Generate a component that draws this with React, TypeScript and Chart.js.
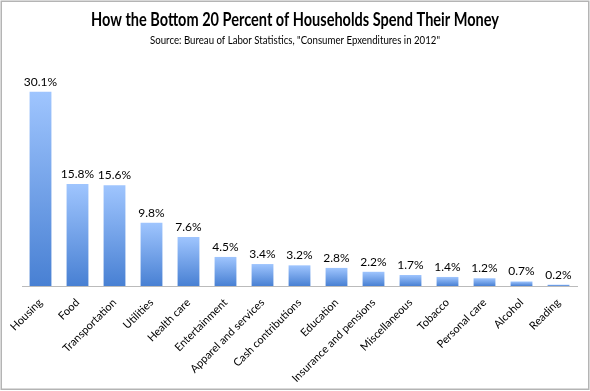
import React, { useEffect, useRef } from "react";
import { Chart, registerables } from "chart.js";

Chart.register(...registerables);

const categories = [
  "Housing", "Food", "Transportation", "Utilities", "Health care", "Entertainment",
  "Apparel and services", "Cash contributions", "Education", "Insurance and pensions",
  "Miscellaneous", "Tobacco", "Personal care", "Alcohol", "Reading",
];
const shares = [30.1, 15.8, 15.6, 9.8, 7.6, 4.5, 3.4, 3.2, 2.8, 2.2, 1.7, 1.4, 1.2, 0.7, 0.2];
const titleText = "How the Bottom 20 Percent of Households Spend Their Money";
const subtitleText = 'Source: Bureau of Labor Statistics, "Consumer Epxenditures in 2012"';

const FONT = "Lato, 'Open Sans', sans-serif";

const valueLabels = {
  id: "valueLabels",
  afterDatasetsDraw(chart: any) {
    const ctx = chart.ctx;
    const meta = chart.getDatasetMeta(0);
    ctx.save();
    ctx.font = `12px ${FONT}`;
    ctx.fillStyle = "#000";
    ctx.textAlign = "center";
    ctx.textBaseline = "bottom";
    meta.data.forEach((el: any, i: number) => {
      ctx.fillText(shares[i].toFixed(1) + "%", el.x, el.y - 4);
    });
    ctx.restore();
  },
};

const headings = {
  id: "headings",
  afterDraw(chart: any) {
    const ctx = chart.ctx;
    const cx = chart.width / 2;
    ctx.save();
    ctx.fillStyle = "#000";
    ctx.textAlign = "center";
    ctx.textBaseline = "middle";
    ctx.font = `bold 18px ${FONT}`;
    ctx.fillText(titleText, cx, 20, 408);
    ctx.font = `11px ${FONT}`;
    ctx.fillText(subtitleText, cx, 40, 290);
    ctx.restore();
  },
};

const frame = {
  id: "frame",
  afterDraw(chart: any) {
    const ctx = chart.ctx;
    ctx.save();
    ctx.strokeStyle = "#b4b4b4";
    ctx.lineWidth = 1.5;
    ctx.strokeRect(1.25, 1.25, chart.width - 2.5, chart.height - 3);
    ctx.restore();
  },
};

export default function App() {
  const ref = useRef<HTMLCanvasElement>(null);
  useEffect(() => {
    document.body.style.margin = "0";
    const chart = new Chart(ref.current!, {
      type: "bar",
      data: {
        labels: categories,
        datasets: [
          {
            data: shares,
            backgroundColor: (c: any) => {
              const ch = c.chart;
              if (!ch.chartArea || !ch.scales.y) return "#6fa0e8";
              const y = ch.scales.y;
              const top = y.getPixelForValue(c.raw);
              const base = y.getPixelForValue(0);
              if (!isFinite(top) || !isFinite(base) || base - top < 1) return "#6fa0e8";
              const g = ch.ctx.createLinearGradient(0, top, 0, base);
              g.addColorStop(0, "#9fc5fe");
              g.addColorStop(1, "#4880d3");
              return g;
            },
            barPercentage: 0.59,
            categoryPercentage: 1,
          },
        ],
      },
      options: {
        animation: false,
        responsive: false,
        layout: { padding: { left: 22, right: 13, top: 60, bottom: 0 } },
        plugins: {
          legend: { display: false },
          tooltip: { enabled: false },
          title: { display: false },
        },
        scales: {
          x: {
            grid: { display: false },
            border: { color: "#bbbbbb", width: 1 },
            ticks: {
              color: "#000",
              font: { family: FONT, size: 11 },
              minRotation: 45,
              maxRotation: 45,
              autoSkip: false,
              padding: 2,
            },
            afterFit: (s: any) => {
              s.height = 105;
            },
          },
          y: {
            display: false,
            min: 0,
            max: 35,
          },
        },
      },
      plugins: [valueLabels, headings, frame],
    });
    return () => chart.destroy();
  }, []);
  return <canvas ref={ref} width={590} height={391} style={{ display: "block" }} />;
}
